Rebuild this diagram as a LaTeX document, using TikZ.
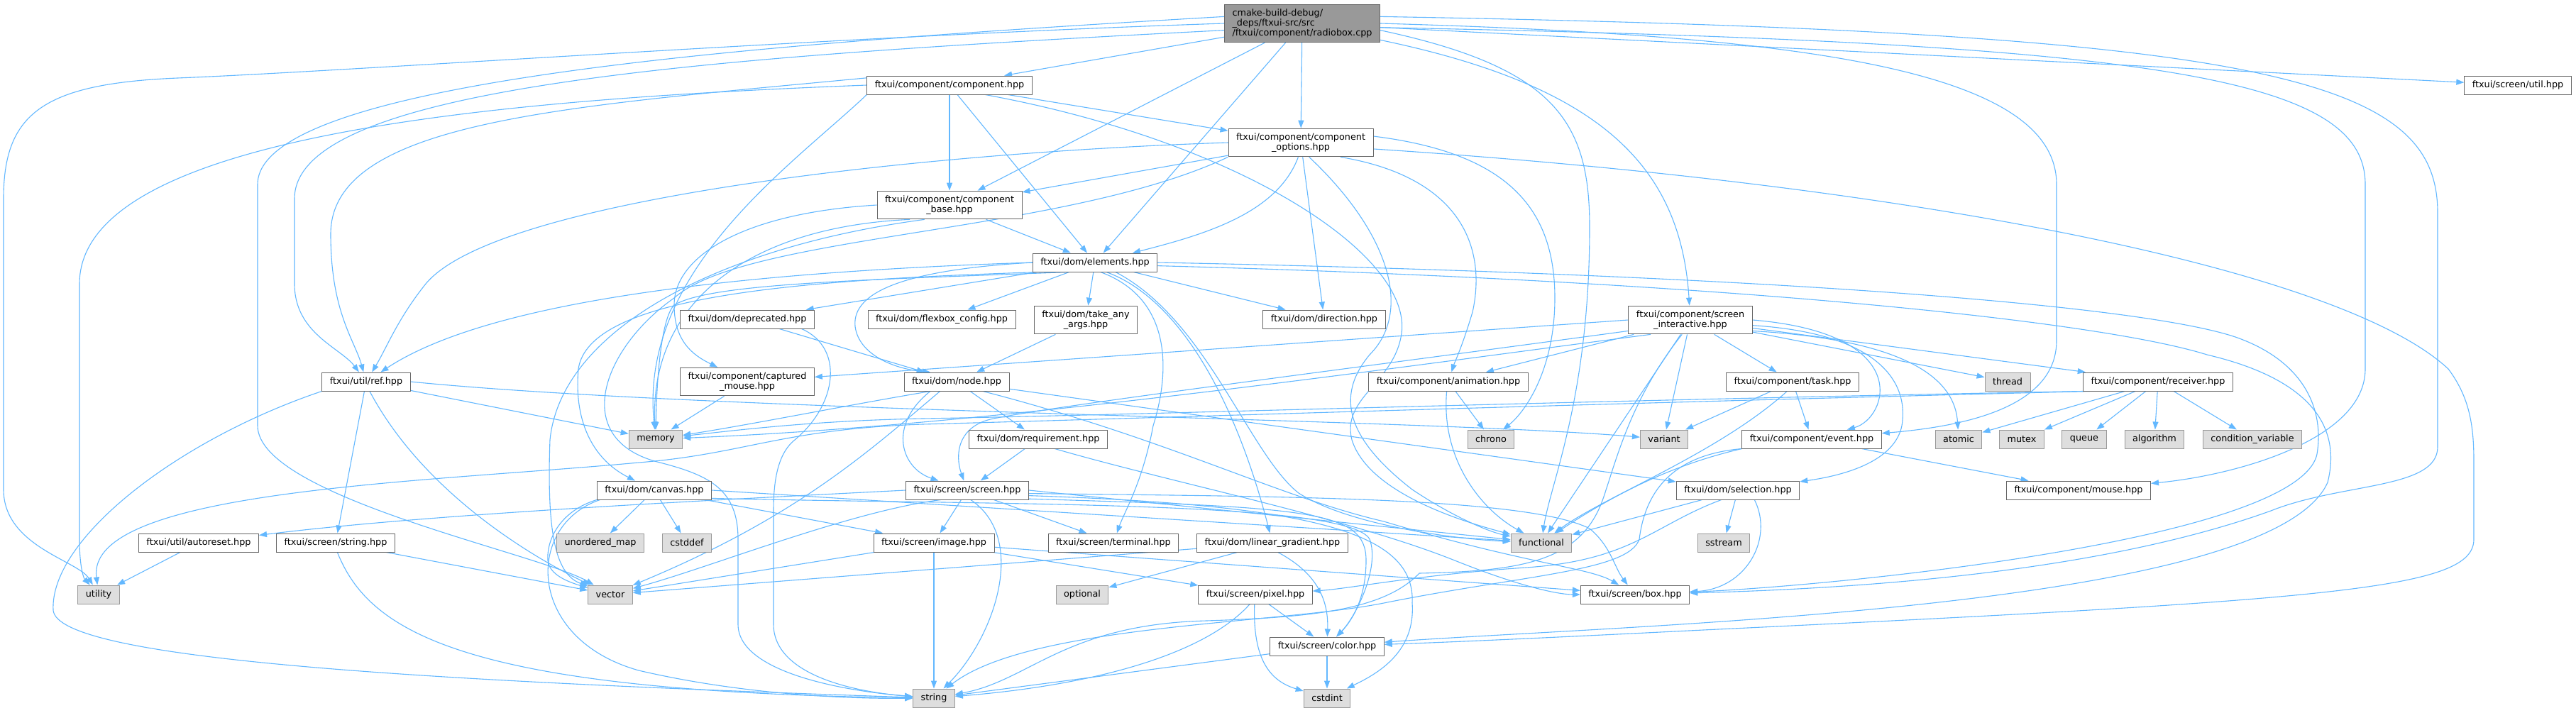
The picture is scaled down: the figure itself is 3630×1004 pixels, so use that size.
\documentclass[tikz,border=0pt]{standalone}
\usepackage{fontspec}
\setmainfont{DejaVu Sans}
\usetikzlibrary{arrows.meta,backgrounds}
\definecolor{incblue}{HTML}{63B8FF}
\definecolor{hdrline}{HTML}{666666}
\definecolor{srcfill}{HTML}{999999}
\definecolor{sysfill}{HTML}{DEDEDE}
\definecolor{sysline}{HTML}{999999}
\tikzset{
	hdr/.style={draw=hdrline, fill=white, line width=1pt, font=\fontsize{12.8}{14}\selectfont, inner xsep=11pt, inner ysep=6.5pt, minimum height=26pt, align=center},
	sys/.style={hdr, draw=sysline, fill=sysfill},
	src/.style={hdr, fill=srcfill, align=left},
	inc/.style={draw=incblue, line width=1.1pt, -{Triangle[length=11pt, width=8pt]}}
}
\begin{document}
\begin{tikzpicture}[x=1pt, y=-1pt]
			\useasboundingbox (0,0) rectangle (3630,1004);
			\node[src] (radiobox) at (1835,33) {cmake-build-debug/\\\_deps/ftxui-src/src\\/ftxui/component/radiobox.cpp};
			\node[hdr] (component) at (1338,120) {ftxui/component/component.hpp};
			\node[hdr] (util) at (3548,120) {ftxui/screen/util.hpp};
			\node[hdr] (options) at (1833,201) {ftxui/component/component\\\_options.hpp};
			\node[hdr] (base) at (1338,289) {ftxui/component/component\\\_base.hpp};
			\node[hdr] (elements) at (1543,370) {ftxui/dom/elements.hpp};
			\node[hdr] (deprecated) at (1053,450) {ftxui/dom/deprecated.hpp};
			\node[hdr] (flexbox) at (1327,450) {ftxui/dom/flexbox\_config.hpp};
			\node[hdr] (takeany) at (1530,451) {ftxui/dom/take\_any\\\_args.hpp};
			\node[hdr] (direction) at (1866,450) {ftxui/dom/direction.hpp};
			\node[hdr] (screenint) at (2382,451) {ftxui/component/screen\\\_interactive.hpp};
			\node[hdr] (ref) at (516,538) {ftxui/util/ref.hpp};
			\node[hdr] (captured) at (1053,538) {ftxui/component/captured\\\_mouse.hpp};
			\node[hdr] (domnode) at (1348,538) {ftxui/dom/node.hpp};
			\node[hdr] (animation) at (2041,538) {ftxui/component/animation.hpp};
			\node[hdr] (task) at (2526,538) {ftxui/component/task.hpp};
			\node[hdr] (receiver) at (3041,538) {ftxui/component/receiver.hpp};
			\node[hdr] (requirement) at (1463,619) {ftxui/dom/requirement.hpp};
			\node[hdr] (event) at (2553,619) {ftxui/component/event.hpp};
			\node[hdr] (canvas) at (922,691) {ftxui/dom/canvas.hpp};
			\node[hdr] (screen) at (1363,691) {ftxui/screen/screen.hpp};
			\node[hdr] (selection) at (2449,691) {ftxui/dom/selection.hpp};
			\node[hdr] (mouse) at (2929,691) {ftxui/component/mouse.hpp};
			\node[hdr] (autoreset) at (280,765) {ftxui/util/autoreset.hpp};
			\node[hdr] (scrstring) at (473,765) {ftxui/screen/string.hpp};
			\node[hdr] (image) at (1316,765) {ftxui/screen/image.hpp};
			\node[hdr] (terminal) at (1569,765) {ftxui/screen/terminal.hpp};
			\node[hdr] (gradient) at (1793,765) {ftxui/dom/linear\_gradient.hpp};
			\node[hdr] (pixel) at (1769,838) {ftxui/screen/pixel.hpp};
			\node[hdr] (box) at (2304,838) {ftxui/screen/box.hpp};
			\node[hdr] (color) at (1870,911) {ftxui/screen/color.hpp};
			\foreach \n/\t/\x/\y in {thread/thread/2829/538, memory/memory/924/619, chrono/chrono/2101/619, variant/variant/2345/619, atomic/atomic/2760/619, mutex/mutex/2849/619, queue/queue/2937/619, algorithm/algorithm/3036/619, condvar/condition\_variable/3174/619, umap/unordered\_map/846/765, cstddef/cstddef/968/765, functional/functional/2172/765, sstream/sstream/2429/765, utility/utility/139/838, vector/vector/860/838, optional/optional/1525/838, string/string/1316/984, cstdint/cstdint/1870/984}{
				\node[sys] (\n) at (\x,\y) {\t};}
			\begin{pgfonlayer}{background}
			\fill[white] (0,0) rectangle (3630,1004);
			\draw[inc] (radiobox) -- (component);
			\draw[inc] (radiobox) -- (base);
			\draw[inc] (radiobox) -- (elements);
			\draw[inc] (radiobox) -- (options);
			\draw[inc] (radiobox) -- (util);
			\draw[inc] (radiobox.-12) .. controls (2250,120) and (2368,230) .. (screenint);
			\draw[inc] (radiobox.-5) .. controls (2190,95) and (2240,170) .. (2240,320) .. controls (2240,560) and (2185,680) .. (functional);
			\draw[inc] (radiobox.east) .. controls (2550,50) and (2898,100) .. (2898,260) -- (2898,480) .. controls (2898,570) and (2780,600) .. (event);
			\draw[inc] (radiobox.-3) .. controls (3050,60) and (3333,110) .. (3333,260) -- (3333,520) .. controls (3333,620) and (3150,670) .. (mouse);
			\draw[inc] (radiobox.5) .. controls (3200,45) and (3435,110) .. (3435,300) -- (3435,630) .. controls (3435,690) and (3300,680) .. (3200,720) .. controls (2950,810) and (2600,830) .. (box);
			\draw[inc] (radiobox.west) .. controls (1200,50) and (500,100) .. (250,110) .. controls (60,118) and (5,160) .. (5,280) -- (5,690) .. controls (5,770) and (110,790) .. (utility);
			\draw[inc] (radiobox.175) .. controls (1100,60) and (363,110) .. (363,260) -- (363,600) .. controls (363,700) and (760,780) .. (vector);
			\draw[inc] (radiobox.185) .. controls (1000,80) and (415,120) .. (415,280) -- (415,400) .. controls (415,470) and (480,490) .. (ref);
			\draw[inc] (component) -- (base);
			\draw[inc] (component) -- (options);
			\draw[inc] (component) -- (elements);
			\draw[inc] (component.west) .. controls (700,140) and (112,190) .. (112,400) -- (112,760) .. controls (112,800) and (118,815) .. (utility);
			\draw[inc] (component.175) .. controls (800,150) and (466,170) .. (466,330) .. controls (466,440) and (500,480) .. (ref);
			\draw[inc] (component.south west) .. controls (1120,230) and (900,380) .. (memory);
			\draw[inc] (component.-15) .. controls (1750,200) and (1990,360) .. (1975,470) .. controls (1965,540) and (1890,560) .. (1905,620) .. controls (1930,700) and (2080,740) .. (functional);
			\draw[inc] (options) -- (base);
			\draw[inc] (options) -- (direction);
			\draw[inc] (options.-100) .. controls (1800,300) and (1700,330) .. (elements);
			\draw[inc] (options.5) .. controls (2120,215) and (2191,290) .. (2191,420) .. controls (2191,520) and (2150,580) .. (chrono);
			\draw[inc] (options.-20) .. controls (2060,250) and (2095,350) .. (2075,440) .. controls (2060,490) and (2050,510) .. (animation);
			\draw[inc] (options.-60) .. controls (1960,330) and (1990,440) .. (1930,500) .. controls (1880,560) and (1900,620) .. (1990,690) .. controls (2050,730) and (2100,750) .. (functional);
			\draw[inc] (options.-5) .. controls (2700,260) and (3300,380) .. (3450,520) .. controls (3480,560) and (3486,600) .. (3486,650) -- (3486,760) .. controls (3486,830) and (3300,845) .. (2400,888) .. controls (2200,898) and (2050,905) .. (color);
			\draw[inc] (options.west) .. controls (1300,215) and (700,280) .. (600,400) .. controls (560,450) and (545,490) .. (ref);
			\draw[inc] (options.south west) .. controls (1500,330) and (1050,330) .. (950,420) .. controls (850,490) and (800,620) .. (930,652) .. controls (1000,670) and (1040,690) .. (1040,760) -- (1040,880) .. controls (1040,950) and (1200,975) .. (string);
			\draw[inc] (base) -- (elements);
			\draw[inc] (base.west) .. controls (1050,300) and (950,360) .. (950,430) .. controls (950,480) and (975,500) .. (captured);
			\draw[inc] (base.200) .. controls (1050,320) and (915,430) .. (memory);
			\draw[inc] (base.210) .. controls (1000,350) and (790,470) .. (775,620) .. controls (770,760) and (785,810) .. (vector);
			\draw[inc] (elements) -- (deprecated);
			\draw[inc] (elements) -- (flexbox);
			\draw[inc] (elements) -- (takeany);
			\draw[inc] (elements) -- (direction);
			\draw[inc] (elements.190) .. controls (1100,395) and (830,420) .. (815,520) .. controls (808,600) and (840,650) .. (canvas);
			\draw[inc] (elements.west) .. controls (1000,385) and (680,430) .. (ref);
			\draw[inc] (elements.200) .. controls (1200,395) and (1000,400) .. (950,430) .. controls (930,450) and (925,550) .. (memory);
			\draw[inc] (elements.west) .. controls (1280,380) and (1200,410) .. (1205,460) .. controls (1210,500) and (1260,520) .. (domnode.160);
			\draw[inc] (elements.-60) .. controls (1650,420) and (1650,520) .. (1625,600) .. controls (1610,680) and (1585,720) .. (terminal);
			\draw[inc] (elements.-40) .. controls (1660,420) and (1740,560) .. (gradient);
			\draw[inc] (elements.-25) .. controls (1700,450) and (1760,640) .. (1830,695) .. controls (1900,740) and (2050,760) .. (functional);
			\draw[inc] (elements.east) .. controls (2400,385) and (3000,425) .. (3150,475) .. controls (3250,510) and (3275,580) .. (3265,640) .. controls (3240,760) and (2600,825) .. (box);
			\draw[inc] (elements.-3) .. controls (2400,395) and (2950,450) .. (3110,500) .. controls (3280,540) and (3295,620) .. (3280,680) .. controls (3200,860) and (2300,880) .. (color);
			\draw[inc] (deprecated) -- (domnode);
			\draw[inc] (deprecated.-10) .. controls (1190,490) and (1180,570) .. (1120,620) .. controls (1095,640) and (1090,680) .. (1090,720) -- (1090,880) .. controls (1090,950) and (1200,975) .. (string);
			\draw[inc] (takeany) -- (domnode);
			\draw[inc] (captured) -- (memory);
			\draw[inc] (domnode) -- (requirement);
			\draw[inc] (domnode) -- (selection);
			\draw[inc] (domnode.-160) .. controls (1250,600) and (1270,660) .. (screen);
			\draw[inc] (domnode.-150) .. controls (1220,640) and (1120,730) .. (vector);
			\draw[inc] (domnode.200) .. controls (1200,570) and (1050,600) .. (memory);
			\draw[inc] (domnode.-20) .. controls (1650,620) and (1800,700) .. (1950,735) .. controls (2150,795) and (2240,800) .. (box);
			\draw[inc] (ref) -- (scrstring);
			\draw[inc] (ref) -- (memory);
			\draw[inc] (ref.east) .. controls (1000,580) and (2000,590) .. (variant);
			\draw[inc] (ref.-70) .. controls (600,700) and (760,790) .. (vector);
			\draw[inc] (ref.south west) .. controls (250,620) and (70,760) .. (75,860) .. controls (80,930) and (600,960) .. (string);
			\draw[inc] (scrstring) -- (vector);
			\draw[inc] (scrstring.-80) .. controls (520,890) and (650,975) .. (string);
			\draw[inc] (autoreset) -- (utility);
			\draw[inc] (canvas) -- (umap);
			\draw[inc] (canvas) -- (cstddef);
			\draw[inc] (canvas) -- (image);
			\draw[inc] (canvas.south west) .. controls (790,720) and (770,760) .. (772,790) .. controls (774,810) and (800,820) .. (vector);
			\draw[inc] (canvas.190) .. controls (740,740) and (740,900) .. (900,945) .. controls (1050,980) and (1200,985) .. (string);
			\draw[inc] (canvas.east) -- (functional);
			\draw[inc] (canvas.-8) .. controls (1400,712) and (1900,705) .. (1930,760) .. controls (1945,800) and (1910,870) .. (color);
			\draw[inc] (screen) -- (image);
			\draw[inc] (screen) -- (terminal);
			\draw[inc] (screen.east) -- (functional);
			\draw[inc] (screen.-70) .. controls (1450,760) and (1400,900) .. (string);
			\draw[inc] (screen.-5) .. controls (1850,712) and (1995,750) .. (1990,850) .. controls (1995,920) and (1940,950) .. (cstdint);
			\draw[inc] (screen.-8) .. controls (1850,715) and (1925,720) .. (1925,790) .. controls (1925,850) and (1900,880) .. (color);
			\draw[inc] (screen.200) .. controls (1200,720) and (1000,800) .. (vector);
			\draw[inc] (screen.west) .. controls (1000,705) and (600,725) .. (autoreset);
			\draw[inc] (screen.-3) .. controls (1800,700) and (2150,700) .. (2240,745) .. controls (2270,770) and (2275,800) .. (box);
			\draw[inc] (requirement) -- (screen);
			\draw[inc] (requirement.-30) .. controls (1650,680) and (1900,730) .. (2050,790) .. controls (2150,830) and (2200,838) .. (box);
			\draw[inc] (image) -- (string);
			\draw[inc] (image) -- (pixel);
			\draw[inc] (image) -- (box);
			\draw[inc] (image) -- (vector);
			\draw[inc] (pixel) -- (color);
			\draw[inc] (pixel.-95) .. controls (1765,930) and (1790,960) .. (cstdint);
			\draw[inc] (pixel.-120) .. controls (1700,920) and (1550,965) .. (string);
			\draw[inc] (color) -- (cstdint);
			\draw[inc] (color) -- (string);
			\draw[inc] (gradient) -- (optional);
			\draw[inc] (gradient.-60) .. controls (1860,810) and (1872,850) .. (color);
			\draw[inc] (gradient) -- (vector);
			\draw[inc] (screenint) -- (animation);
			\draw[inc] (screenint) -- (task);
			\draw[inc] (screenint) -- (thread);
			\draw[inc] (screenint) -- (receiver);
			\draw[inc] (screenint) -- (variant);
			\draw[inc] (screenint) -- (functional);
			\draw[inc] (screenint.west) -- (captured);
			\draw[inc] (screenint.-10) .. controls (2700,480) and (2755,540) .. (atomic);
			\draw[inc] (screenint.east) .. controls (2700,470) and (2660,590) .. (event);
			\draw[inc] (screenint.-5) .. controls (2650,470) and (2690,540) .. (2680,600) .. controls (2670,650) and (2600,670) .. (selection);
			\draw[inc] (screenint.200) .. controls (1950,520) and (1400,600) .. (memory);
			\draw[inc] (screenint.190) .. controls (1900,520) and (1500,570) .. (1400,590) .. controls (1350,600) and (1345,640) .. (screen);
			\draw[inc] (screenint.-120) .. controls (2300,560) and (2280,640) .. (2260,700) .. controls (2230,790) and (2150,805) .. (2000,808) .. controls (1950,860) and (1850,870) .. (1700,875) .. controls (1500,880) and (1450,960) .. (string);
			\draw[inc] (animation) -- (chrono);
			\draw[inc] (animation.-100) .. controls (2030,650) and (2090,720) .. (functional);
			\draw[inc] (task) -- (event);
			\draw[inc] (task) -- (variant);
			\draw[inc] (task.-120) .. controls (2420,640) and (2260,700) .. (functional);
			\draw[inc] (receiver) -- (atomic);
			\draw[inc] (receiver) -- (mutex);
			\draw[inc] (receiver) -- (queue);
			\draw[inc] (receiver) -- (algorithm);
			\draw[inc] (receiver) -- (condvar);
			\draw[inc] (receiver.south west) .. controls (2200,565) and (1600,585) .. (1300,590) .. controls (1150,593) and (1050,605) .. (memory);
			\draw[inc] (receiver.-172) .. controls (2200,570) and (1600,590) .. (1300,598) .. controls (1100,605) and (1050,640) .. (900,652) .. controls (600,680) and (120,690) .. (utility);
			\draw[inc] (event) -- (mouse);
			\draw[inc] (event.south west) .. controls (2380,650) and (2300,680) .. (functional);
			\draw[inc] (event.south west) .. controls (2370,640) and (2320,680) .. (2310,760) .. controls (2295,805) and (2150,810) .. (1950,850) .. controls (1800,880) and (1450,880) .. (string);
			\draw[inc] (selection) -- (functional);
			\draw[inc] (selection) -- (sstream);
			\draw[inc] (selection.-30) .. controls (2500,760) and (2460,830) .. (box);
			\draw[inc] (selection.-150) .. controls (2330,740) and (2300,790) .. (2150,800) .. controls (2000,810) and (1900,830) .. (pixel);
			\end{pgfonlayer}
		\end{tikzpicture}
\end{document}
